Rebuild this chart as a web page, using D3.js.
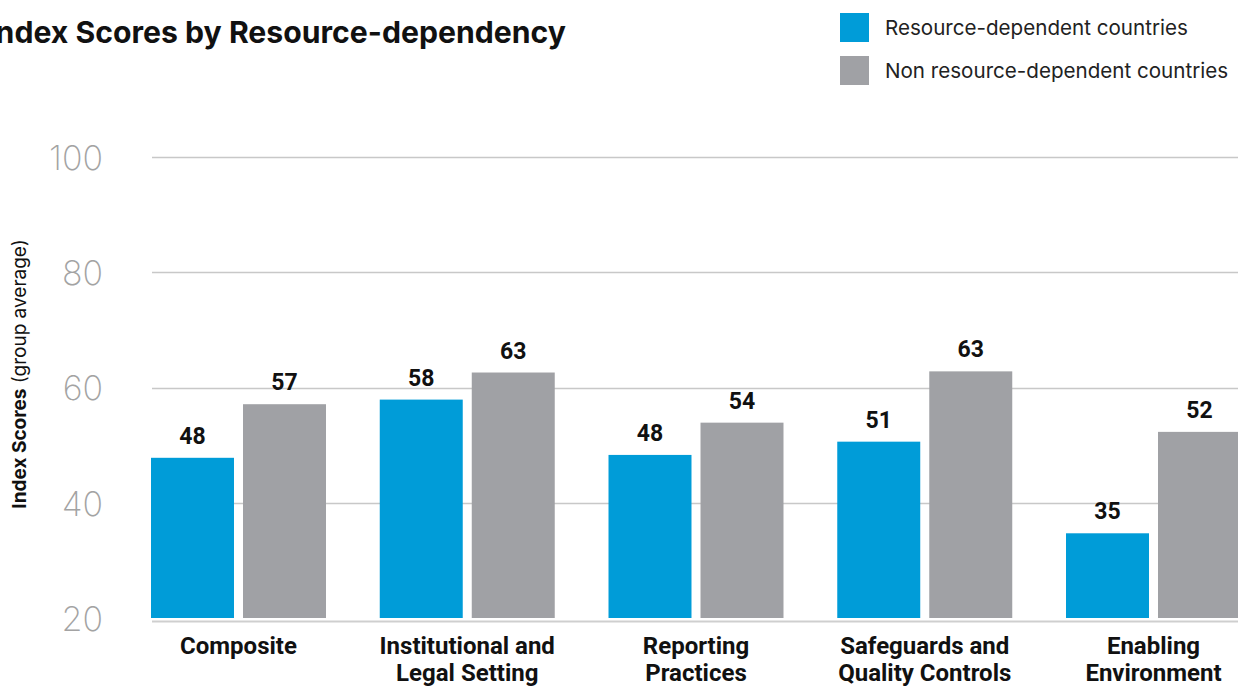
<!DOCTYPE html>
<html>
<head>
<meta charset="utf-8">
<script src="https://cdn.jsdelivr.net/npm/d3@7"></script>
<style>
  html, body { margin: 0; padding: 0; background: #fff; overflow: hidden; }
  svg { display: block; font-family: Inter, Roboto, "Noto Sans", sans-serif; }
</style>
</head>
<body>
<svg id="chart" width="1238" height="687"></svg>
<script>
const categories = [
  ["Composite"],
  ["Institutional and", "Legal Setting"],
  ["Reporting", "Practices"],
  ["Safeguards and", "Quality Controls"],
  ["Enabling", "Environment"]
];
const seriesNames = ["Resource-dependent countries", "Non resource-dependent countries"];
const resourceDependent = [47.8, 57.9, 48.3, 50.6, 34.7];
const nonResourceDependent = [57.1, 62.6, 53.9, 62.8, 52.3];
const yTicks = [20, 40, 60, 80, 100];
const colors = ["#009cd8", "#a0a1a5"];

const svg = d3.select("#chart");
const W = 1238, H = 687;

const x0 = d3.scaleBand()
  .domain(d3.range(categories.length))
  .range([151, 1241])
  .paddingInner(0.235)
  .paddingOuter(0);
const x1 = d3.scaleBand()
  .domain([0, 1])
  .range([0, x0.bandwidth()])
  .paddingInner(0.098)
  .paddingOuter(0);
const y = d3.scaleLinear().domain([20, 100]).range([618, 157]);

// gridlines
const grid = svg.append("g");
grid.selectAll("line")
  .data(yTicks.filter(d => d > 20))
  .join("line")
  .attr("x1", 152).attr("x2", W)
  .attr("y1", d => Math.round(y(d)) + 0.5).attr("y2", d => Math.round(y(d)) + 0.5)
  .attr("stroke", "#c8c8c8").attr("stroke-width", 1.5);
// baseline (slightly offset)
svg.append("line")
  .attr("x1", 152).attr("x2", W)
  .attr("y1", y(20) + 3.5).attr("y2", y(20) + 3.5)
  .attr("stroke", "#cfcfcf").attr("stroke-width", 2);

// y axis tick labels
const yAxis = d3.axisLeft(y).tickValues(yTicks).tickSize(0).tickPadding(0);
const ya = svg.append("g").attr("transform", "translate(103,0)").call(yAxis);
ya.select(".domain").remove();
ya.selectAll("text")
  .attr("font-family", "Inter, Roboto, sans-serif")
  .attr("font-weight", 200)
  .attr("font-size", 34)
  .attr("fill", "#a3a3a3")
  .attr("dy", "0.36em");

// y axis title
const yt = svg.append("text")
  .attr("transform", "translate(26,374) rotate(-90)")
  .attr("text-anchor", "middle")
  .attr("font-size", 19)
  .attr("fill", "#111");
yt.append("tspan").attr("font-weight", 700).text("Index Scores");
yt.append("tspan").attr("font-weight", 400).text(" (group average)");

// bars
const data = categories.map((c, i) => ({ i, vals: [resourceDependent[i], nonResourceDependent[i]] }));
const groups = svg.append("g").selectAll("g")
  .data(data).join("g")
  .attr("transform", d => `translate(${x0(d.i)},0)`);
groups.selectAll("rect")
  .data(d => d.vals.map((v, k) => ({ v, k })))
  .join("rect")
  .attr("x", d => x1(d.k))
  .attr("width", x1.bandwidth())
  .attr("y", d => y(d.v))
  .attr("height", d => y(20) - y(d.v))
  .attr("fill", d => colors[d.k]);
groups.selectAll("text.val")
  .data(d => d.vals.map((v, k) => ({ v, k })))
  .join("text")
  .attr("class", "val")
  .attr("x", d => x1(d.k) + x1.bandwidth() / 2)
  .attr("y", d => y(d.v) - 14)
  .attr("text-anchor", "middle")
  .attr("font-family", "Roboto, Inter, sans-serif")
  .attr("font-weight", 700)
  .attr("font-size", 23)
  .attr("fill", "#111")
  .text(d => Math.round(d.v));

// category labels
const cl = svg.append("g").selectAll("text")
  .data(categories).join("text")
  .attr("x", (d, i) => x0(i) + x0.bandwidth() / 2)
  .attr("y", 654)
  .attr("text-anchor", "middle")
  .attr("font-family", "Roboto, Inter, sans-serif")
  .attr("font-weight", 700)
  .attr("font-size", 24)
  .attr("fill", "#111");
cl.selectAll("tspan")
  .data(d => d)
  .join("tspan")
  .attr("x", function() { return d3.select(this.parentNode).attr("x"); })
  .attr("dy", (d, j) => j === 0 ? 0 : 27)
  .text(d => d);

// title
svg.append("text")
  .attr("x", 566).attr("y", 43)
  .attr("text-anchor", "end")
  .attr("font-weight", 700)
  .attr("font-size", 30.2)
  .attr("fill", "#111")
  .text("Index Scores by Resource-dependency");

// legend
const lg = svg.append("g").selectAll("g")
  .data(seriesNames).join("g")
  .attr("transform", (d, i) => `translate(840,${13 + i * 43})`);
lg.append("rect").attr("width", 29).attr("height", 29).attr("fill", (d, i) => colors[i]);
lg.append("text")
  .attr("x", 45).attr("y", 15).attr("dy", "0.35em")
  .attr("font-size", 20.6)
  .attr("fill", "#222")
  .text(d => d);
</script>
</body>
</html>
